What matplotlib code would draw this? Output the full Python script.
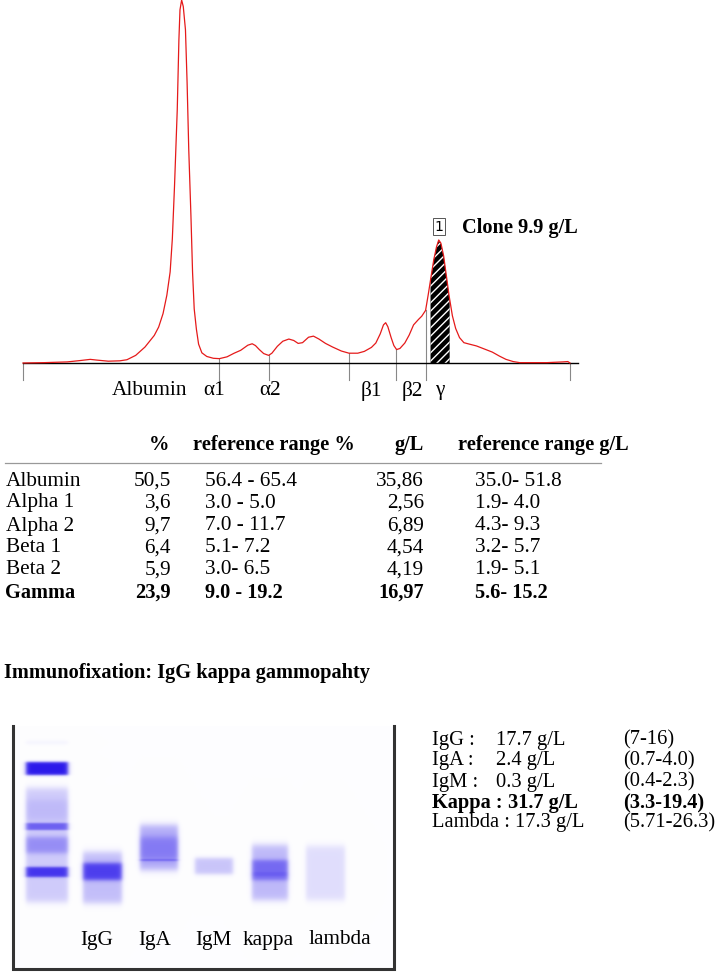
import numpy as np
import matplotlib
matplotlib.use("Agg")
import matplotlib.pyplot as plt

plt.rcParams['font.family'] = ['Liberation Serif', 'DejaVu Serif']
plt.rcParams['hatch.linewidth'] = 1.0

# Densitometry trace (mobility 0-100, intensity 0-100)
mobility = [0, 3.9, 8.1, 10.6, 12.3, 13.5, 15.6, 17.7, 19.0, 20.6, 22.3, 24.0, 24.8,
            25.6, 26.3, 26.9, 27.3, 27.7, 28.2, 28.5, 28.7, 29.0, 29.3, 29.7, 30.0,
            30.3, 30.7, 31.0, 31.3, 31.7, 32.1, 32.7, 33.6, 34.8, 35.9, 37.3, 38.6,
            39.8, 41.1, 41.9, 42.5, 43.2, 44.0, 44.9, 45.5, 46.5, 47.5, 48.6, 49.5,
            50.3, 51.1, 52.2, 53.1, 54.1, 55.3, 56.6, 58.2, 59.6, 61.2, 62.4, 63.7,
            64.5, 65.3, 65.9, 66.3, 66.7, 67.3, 67.8, 68.3, 68.9, 69.8, 70.6, 71.4,
            72.3, 72.9, 73.6, 74.1, 74.6, 75.1, 75.6, 76.0, 76.4, 76.9, 77.4, 77.9,
            78.5, 79.1, 79.8, 80.6, 81.6, 82.9, 84.1, 85.8, 87.1, 88.3, 89.6, 90.8,
            95.8, 98.7, 99.6, 100]
intensity = [0, 0.1, 0.3, 0.7, 1.0, 0.8, 0.5, 0.6, 0.9, 2.1, 4.4, 7.6, 9.9,
             13.6, 18.7, 25.1, 34.2, 48.8, 69.8, 89.0, 97.3, 100, 98.2, 91.8, 77.2,
             58.9, 40.6, 24.9, 14.9, 9.3, 5.2, 2.8, 1.8, 1.3, 1.2, 1.7, 2.7,
             3.5, 4.9, 5.3, 4.8, 3.7, 2.6, 2.1, 2.7, 4.6, 6.0, 6.6, 6.2,
             5.4, 5.6, 7.1, 7.4, 6.6, 5.4, 4.4, 3.3, 2.7, 2.7, 3.2, 4.3,
             5.5, 8.0, 10.5, 11.1, 10.0, 7.0, 4.8, 3.7, 4.0, 5.5, 7.7, 10.5,
             12.0, 12.9, 14.5, 19.0, 23.8, 28.5, 32.0, 33.9, 33.0, 29.5, 24.0, 18.5,
             13.0, 9.5, 7.0, 5.6, 5.2, 4.7, 4.0, 3.0, 1.9, 1.0, 0.4, 0.1,
             0.1, 0.3, 0.4, 0]

split_points = [35.9, 44.9, 59.6, 68.2, 73.6]
fraction_symbols = ["Albumin", "α1", "α2", "β1", "β2", "γ"]
symbol_pos = [23.2, 34.9, 45.2, 63.6, 71.1, 76.4]
clone_range = (74.5, 78.0)
clone_label = "Clone 9.9 g/L"

# Table
fractions = ["Albumin", "Alpha 1", "Alpha 2", "Beta 1", "Beta 2", "Gamma"]
pct = ["50,5", "3,6", "9,7", "6,4", "5,9", "23,9"]
ref_pct = ["56.4 - 65.4", "3.0 - 5.0", "7.0 - 11.7", "5.1- 7.2", "3.0- 6.5", "9.0 - 19.2"]
gl = ["35,86", "2,56", "6,89", "4,54", "4,19", "16,97"]
ref_gl = ["35.0- 51.8", "1.9- 4.0", "4.3- 9.3", "3.2- 5.7", "1.9- 5.1", "5.6- 15.2"]

# Immunofixation
ifx_title = "Immunofixation: IgG kappa gammopahty"
lane_names = ["", "IgG", "IgA", "IgM", "kappa", "lambda"]
lane_left = [26, 83, 140, 195, 252, 306]
lane_right = [68, 122, 178, 233, 288, 345]
# bands per lane: (top, bottom, strength, softness) in image pixels
lane_bands = [
    [(741, 744, 0.05, 2), (762, 775, 1.0, 1.5), (788, 902, 0.22, 4), (800, 820, 0.1, 4),
     (823, 830, 0.6, 1.2), (837, 853, 0.35, 3), (867, 877, 0.85, 1.5)],
    [(852, 903, 0.28, 4), (863, 880, 0.78, 2.5)],
    [(825, 870, 0.35, 4), (837, 860, 0.35, 4), (859, 861, 0.35, 0.8)],
    [(858, 874, 0.25, 2.5)],
    [(845, 900, 0.3, 4), (860, 880, 0.5, 2.5), (872, 876, 0.15, 1)],
    [(846, 900, 0.14, 4)],
]
ig_names = ["IgG :", "IgA :", "IgM :", "Kappa :", "Lambda :"]
ig_values = ["17.7 g/L", "2.4 g/L", "0.3 g/L", "31.7 g/L", "17.3 g/L"]
ig_ranges = ["(7-16)", "(0.7-4.0)", "(0.4-2.3)", "(3.3-19.4)", "(5.71-26.3)"]
ig_bold = [False, False, False, True, False]

W, H = 715, 974
fig = plt.figure(figsize=(W / 100, H / 100), dpi=100)

fs = 15.3   # regular text
fb = 14.7   # bold text
fr = 14.8   # right-hand immunoglobulin block

# ---- trace axes: mobility 0 at x=23 px, 100 at x=570 px; baseline y=363 px
base_px = 363
ax = fig.add_axes([23 / W, (H - base_px) / H, 547 / W, base_px / H])
ax.set_xlim(0, 100)
ax.set_ylim(0, 100)
ax.axis("off")

ax.plot(mobility, intensity, color="#e51a1a", lw=0.9, clip_on=False, zorder=4,
        solid_joinstyle="round")
ax.plot([0, 101.5], [0, 0], color="black", lw=1.0, clip_on=False, zorder=3)

# clone area
xs = np.linspace(clone_range[0], clone_range[1], 60)
ys = np.interp(xs, mobility, intensity)
ax.fill_between(xs, 0, ys, facecolor="black", edgecolor="white", hatch="////",
                linewidth=0, zorder=2)

tick_low = -4.7
for m in [0, 100]:
    ax.plot([m, m], [tick_low, 0], color="#888888", lw=0.8, clip_on=False)
for m in split_points:
    top = np.interp(m, mobility, intensity)
    ax.plot([m, m], [tick_low, top], color="#888888", lw=0.8, clip_on=False)

for s, p in zip(fraction_symbols, symbol_pos):
    ax.text(p, -7.6, s, ha="center", va="center", fontsize=fs)

ax.text(76.1, 37.6, "1", ha="center", va="center", fontsize=10,
        family="DejaVu Sans",
        bbox=dict(boxstyle="square,pad=0.12", fc="white", ec="#555555", lw=0.7))
ax.text(80.2, 37.3, clone_label, ha="left", va="center", fontsize=fb,
        fontweight="bold")

# ---- overlay in pixel coordinates for table and immunofixation
ov = fig.add_axes([0, 0, 1, 1], zorder=-1)
ov.axis("off")

hy = 445
ov.text(159, hy, "%", ha="center", va="center", fontsize=fb, fontweight="bold")
ov.text(193, hy, "reference range %", ha="left", va="center", fontsize=fb, fontweight="bold")
ov.text(424, hy, "g/L", ha="right", va="center", fontsize=fb, fontweight="bold")
ov.text(458, hy, "reference range g/L", ha="left", va="center", fontsize=fb, fontweight="bold")
ov.plot([5, 601], [463, 463], color="#999999", lw=0.9)

row_y = [481, 503, 526, 548, 570, 593]
for i, y in enumerate(row_y):
    bold = fractions[i] == "Gamma"
    w = "bold" if bold else "normal"
    f = fb if bold else fs
    ov.text(5.5, y, fractions[i], ha="left", va="center", fontsize=f, fontweight=w)
    ov.text(171, y, pct[i], ha="right", va="center", fontsize=f, fontweight=w)
    ov.text(205, y, ref_pct[i], ha="left", va="center", fontsize=f, fontweight=w)
    ov.text(424, y, gl[i], ha="right", va="center", fontsize=f, fontweight=w)
    ov.text(475, y, ref_gl[i], ha="left", va="center", fontsize=f, fontweight=w)

ov.text(4, 673, ifx_title, ha="left", va="center", fontsize=fb, fontweight="bold")


def smooth_step(t):
    return 0.5 * (1 + np.tanh(t))


# gel picture
gx0, gx1, gy0, gy1 = 12, 395, 726, 970
px = np.arange(gx0, gx1) + 0.5
py = np.arange(gy0, gy1) + 0.5
gel_int = np.zeros((len(py), len(px)))
for xl, xr, bands in zip(lane_left, lane_right, lane_bands):
    hprof = smooth_step((px - xl) / 2.5) * smooth_step((xr - px) / 2.5)
    keep = np.ones_like(py)
    for yt, yb, st, sf in bands:
        v = smooth_step((py - yt) / sf) * smooth_step((yb - py) / sf) * st
        keep *= (1 - v)
    vprof = 1 - keep
    gel_int = np.maximum(gel_int, vprof[:, None] * hprof[None, :])
white = np.array([0.995, 0.995, 1.0])
blue = np.array([0.17, 0.10, 0.92])
gel = white[None, None, :] * (1 - gel_int[..., None]) + blue[None, None, :] * gel_int[..., None]
ov.imshow(gel, extent=(gx0, gx1, gy1, gy0), aspect="auto", interpolation="bilinear")
ov.set_xlim(0, W)
ov.set_ylim(H, 0)
ov.plot([gx0 + 1, gx0 + 1, gx1 - 1, gx1 - 1], [gy0, gy1 - 1, gy1 - 1, gy0],
        color="#333333", lw=2.2, solid_joinstyle="miter")

lane_centers = [97, 155, 213, 268, 340]
for name, cx in zip(lane_names[1:], lane_centers):
    ov.text(cx, 940, name, ha="center", va="center", fontsize=fs)

ig_y = [740, 761, 782, 803, 823]
for i, y in enumerate(ig_y):
    bold = ig_bold[i]
    w = "bold" if bold else "normal"
    f = fb if bold else fr
    if ig_names[i].startswith("Lambda"):
        ov.text(432, y, ig_names[i] + " " + ig_values[i], ha="left", va="center",
                fontsize=f, fontweight=w)
    else:
        ov.text(432, y, ig_names[i], ha="left", va="center", fontsize=f, fontweight=w)
        ov.text(508 if bold else 496, y, ig_values[i], ha="left", va="center",
                fontsize=f, fontweight=w)
    ov.text(623, y, ig_ranges[i], ha="left", va="center", fontsize=f, fontweight=w)

fig.savefig("out.png", dpi=100)
